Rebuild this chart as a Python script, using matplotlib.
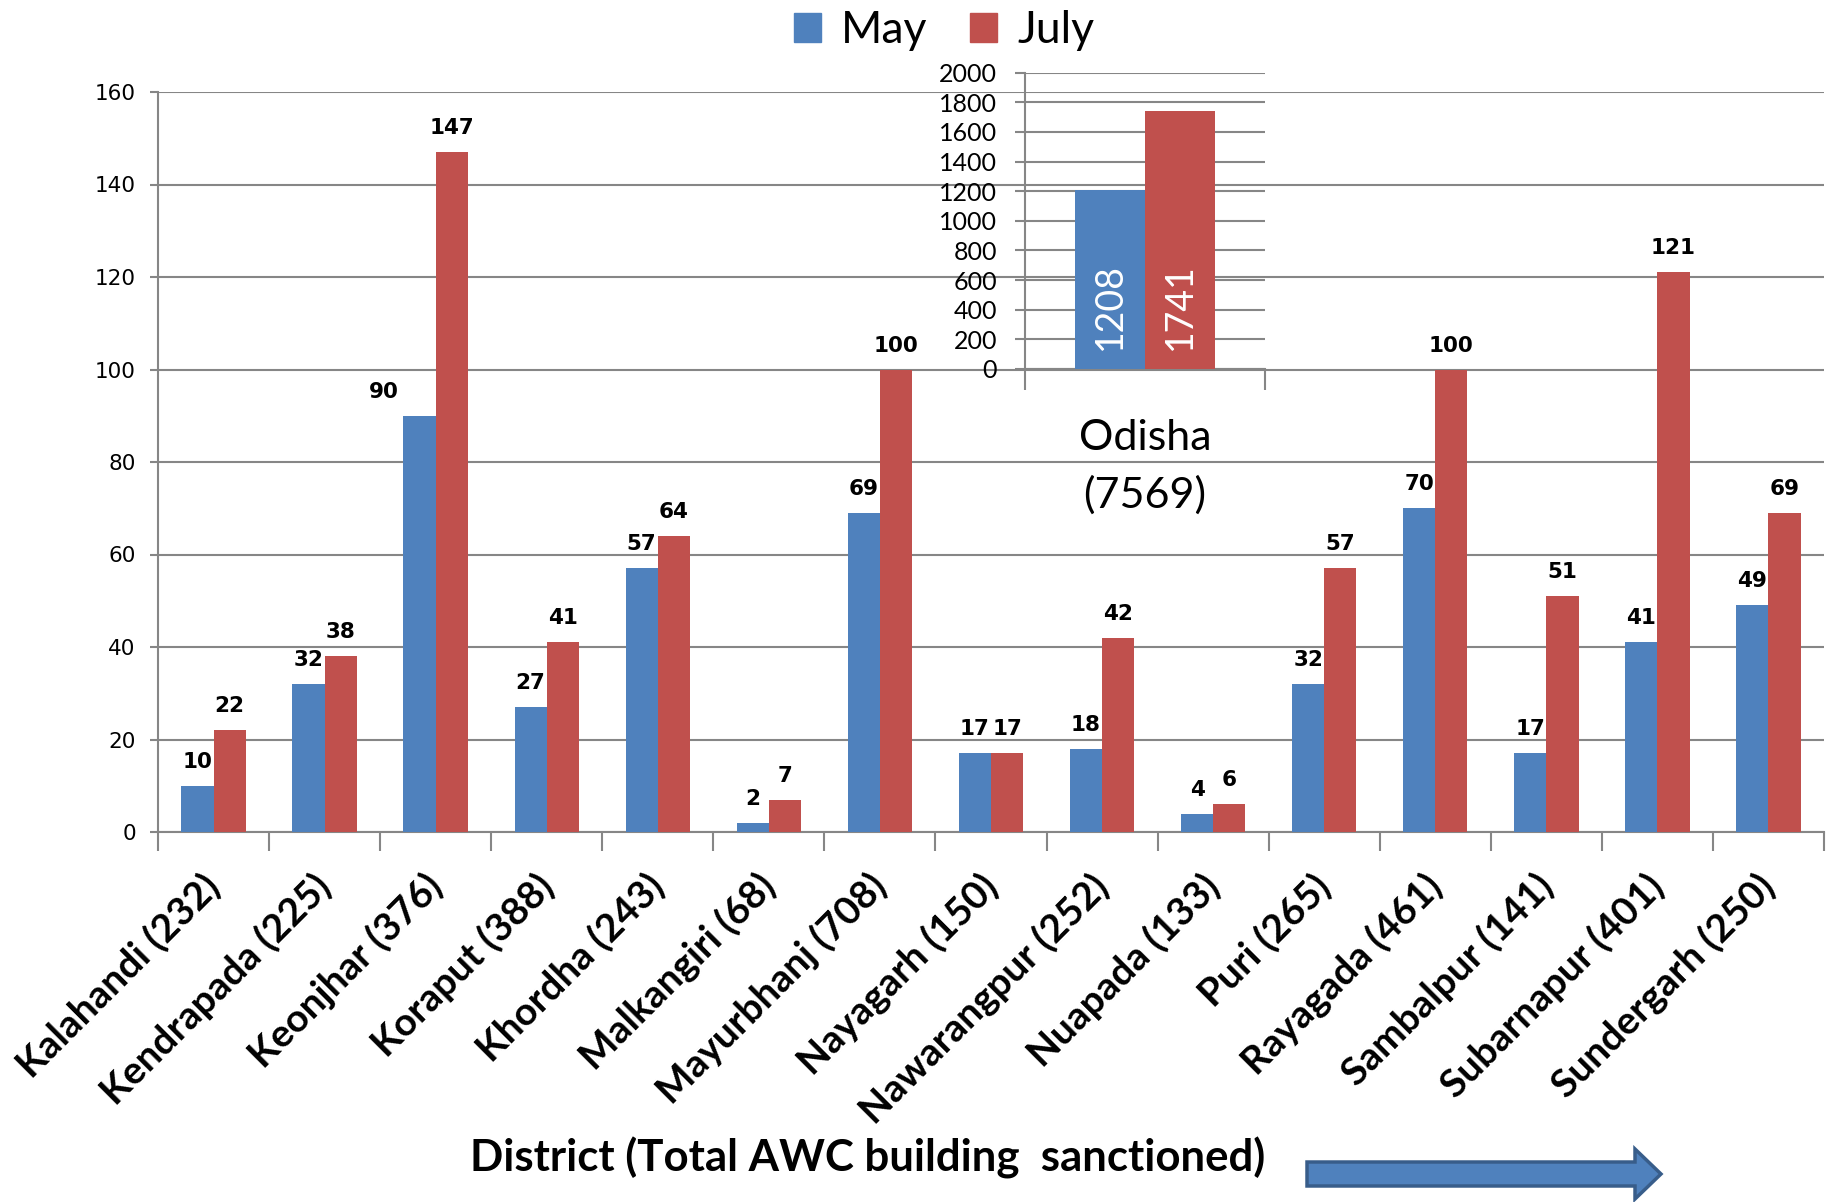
import matplotlib.pyplot as plt
from matplotlib.patches import Patch, FancyArrow
from matplotlib.transforms import ScaledTranslation
import numpy as np

# District data (Total AWC building sanctioned)
districts = ["Kalahandi (232)", "Kendrapada (225)", "Keonjhar (376)", "Koraput (388)",
             "Khordha (243)", "Malkangiri (68)", "Mayurbhanj (708)", "Nayagarh (150)",
             "Nawarangpur (252)", "Nuapada (133)", "Puri (265)", "Rayagada (461)",
             "Sambalpur (141)", "Subarnapur (401)", "Sundergarh (250)"]
may = [10, 32, 90, 27, 57, 2, 69, 17, 18, 4, 32, 70, 17, 41, 49]
july = [22, 38, 147, 41, 64, 7, 100, 17, 42, 6, 57, 100, 51, 121, 69]

# State total
odisha_label = "Odisha\n(7569)"
odisha_may = 1208
odisha_july = 1741

blue = '#4F81BD'
red = '#C0504D'
grey = '#868686'
calibri = ['Lato', 'DejaVu Sans']

W, H = 1833, 1202
fig = plt.figure(figsize=(W / 100, H / 100), dpi=100)

# main chart
ax = fig.add_axes([158 / W, 370 / H, (1824 - 158) / W, (832 - 92) / H])
x = np.arange(len(districts))
w = 0.29
b1 = ax.bar(x - w / 2, may, w, color=blue, zorder=3)
b2 = ax.bar(x + w / 2, july, w, color=red, zorder=3)
ax.set_xlim(-0.5, len(districts) - 0.5)
ax.set_ylim(0, 160)
ax.set_yticks(range(0, 161, 20))
ax.yaxis.grid(True, color=grey, lw=1.5, zorder=0)
ax.set_axisbelow(True)
for s in ['top', 'right']:
    ax.spines[s].set_visible(False)
for s in ['left', 'bottom']:
    ax.spines[s].set_color(grey)
    ax.spines[s].set_linewidth(1.5)
ax.tick_params(axis='y', color=grey, labelcolor='black', labelsize=15.5, length=6, width=1.5, pad=10)
ax.set_xticks(x)
ax.set_xticklabels(districts, rotation=45, ha='right', rotation_mode='anchor',
                   fontsize=28, fontweight='bold', family=calibri)
ax.set_xticks(np.arange(-0.5, len(districts), 1), minor=True)
ax.tick_params(axis='x', which='major', length=0, pad=17)
ax.tick_params(axis='x', which='minor', length=14, width=1.5, color=grey)
shift = ScaledTranslation(-0.12, -0.12, fig.dpi_scale_trans)
for t in ax.get_xticklabels():
    t.set_transform(t.get_transform() + shift)

# value labels (Keonjhar May label was nudged left in the original)
nudge = {2: -26}
for i, v in enumerate(may):
    ax.annotate(str(v), (x[i] - w / 2, v), xytext=(nudge.get(i, 0), 10), textcoords='offset points',
                ha='center', va='bottom', fontsize=15.5, fontweight='bold')
for i, v in enumerate(july):
    ax.annotate(str(v), (x[i] + w / 2, v), xytext=(0, 10), textcoords='offset points',
                ha='center', va='bottom', fontsize=15.5, fontweight='bold')

fig.text(868 / W, 1 - 1158 / H, "District (Total AWC building  sanctioned)", ha='center', va='center',
         fontsize=31.5, fontweight='bold', family=calibri)

# inset for Odisha
ax2 = fig.add_axes([1025 / W, (H - 369) / H, 240 / W, (369 - 72.7) / H])
ax2.patch.set_alpha(0)
ax2.bar([-w / 2], [odisha_may], w, color=blue, zorder=3)
ax2.bar([w / 2], [odisha_july], w, color=red, zorder=3)
ax2.set_xlim(-0.5, 0.5)
ax2.set_ylim(0, 2000)
ax2.set_yticks(range(0, 2001, 200))
ax2.yaxis.grid(True, color=grey, lw=1.5, zorder=0)
ax2.set_axisbelow(True)
for s in ['top', 'right']:
    ax2.spines[s].set_visible(False)
for s in ['left', 'bottom']:
    ax2.spines[s].set_color(grey)
    ax2.spines[s].set_linewidth(1.5)
ax2.set_xticks([-0.5, 0.5])
ax2.set_xticklabels([])
ax2.tick_params(axis='x', length=15, width=1.5, color=grey)
ax2.tick_params(axis='y', length=7, width=1.5, color=grey, labelcolor='black', pad=13)
for t in ax2.get_yticklabels():
    t.set_family(calibri)
    t.set_fontsize(18)
for xv, v in [(-w / 2, odisha_may), (w / 2, odisha_july)]:
    ax2.annotate(str(v), (xv, 0), xytext=(0, 14), textcoords='offset points', rotation=90,
                 ha='center', va='bottom', color='white', fontsize=27, family=calibri)
ax2.text(0.5, -0.33, odisha_label, transform=ax2.transAxes, ha='center', va='center',
         fontsize=31, family=calibri, linespacing=1.55)

# legend
handles = [Patch(color=blue, label='May'), Patch(color=red, label='July')]
fig.legend(handles=handles, loc='upper center', bbox_to_anchor=(944 / W, 1.025), ncol=2, frameon=False,
           prop={'family': calibri, 'size': 32}, handlelength=0.62, handleheight=0.62,
           handletextpad=0.45, columnspacing=0.95)

# arrow at the bottom right
axa = fig.add_axes([0, 0, 1, 1])
axa.set_xlim(0, W)
axa.set_ylim(H, 0)
axa.axis('off')
axa.add_patch(FancyArrow(1307, 1174, 1661 - 1307, 0, width=24, head_width=50, head_length=26,
                         length_includes_head=True, facecolor=blue, edgecolor='#385D8A', lw=2.5))

fig.savefig('out.png', dpi=100)
